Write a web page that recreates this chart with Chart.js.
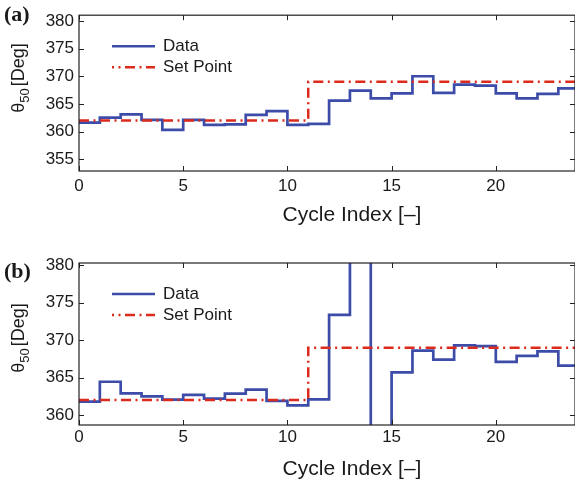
<!DOCTYPE html>
<html>
<head>
<meta charset="utf-8">
<script src="https://cdn.jsdelivr.net/npm/chart.js@4.4.1/dist/chart.umd.min.js"></script>
<style>
  html, body { margin: 0; padding: 0; background: #fff; }
  .panel { position: relative; width: 575px; height: 242px; }
</style>
</head>
<body>
<div class="panel"><canvas id="chartA" width="575" height="242"></canvas></div>
<div class="panel"><canvas id="chartB" width="575" height="242"></canvas></div>
<script>
// values
const cycles = [0, 1, 2, 3, 4, 5, 6, 7, 8, 9, 10, 11, 12, 13, 14, 15, 16, 17, 18, 19, 20, 21, 22, 23, 24];
const dataA = [361.6, 362.5, 363.1, 362.1, 360.3, 362.1, 361.2, 361.3, 363.0, 363.7, 361.2, 361.4, 365.6,
  367.4, 366.0, 366.9, 370.0, 367.0, 368.5, 368.3, 366.9, 366.0, 366.8, 367.8, 367.8];
const dataB = [361.8, 364.45, 362.9, 362.5, 362.05, 362.7, 362.2, 362.85, 363.4, 361.9, 361.3, 362.1, 373.4,
  385.0, 355.0, 365.7, 368.6, 367.4, 369.3, 369.2, 367.1, 367.9, 368.5, 366.6, 366.6];
const setPoint = [362, 362, 362, 362, 362, 362, 362, 362, 362, 362, 362, 369, 369,
  369, 369, 369, 369, 369, 369, 369, 369, 369, 369, 369, 369];
const xTicks = [0, 5, 10, 15, 20];
const yTicksA = [355, 360, 365, 370, 375, 380];
const yTicksB = [360, 365, 370, 375, 380];
const seriesNames = ['Data', 'Set Point'];

const FONT = '"Liberation Sans", Arial, Helvetica, sans-serif';
const INK = '#1a1a1a';
const BLUE = '#3c4ca8';
const RED = '#dc2a1c';
const DASH = [10, 4.5, 2, 4.5];

// box, inward ticks, labels and legend in the MATLAB style
const decor = {
  id: 'decor',
  afterDraw(chart, args, o) {
    const { ctx, chartArea: a, scales } = chart;
    ctx.save();
    ctx.strokeStyle = '#222';
    ctx.lineWidth = 1.2;
    ctx.strokeRect(a.left, a.top, a.right - a.left, a.bottom - a.top);
    ctx.lineWidth = 1;
    ctx.beginPath();
    scales.x.ticks.forEach(t => {
      const px = Math.round(scales.x.getPixelForValue(t.value)) + 0.5;
      ctx.moveTo(px, a.bottom); ctx.lineTo(px, a.bottom - 5);
      ctx.moveTo(px, a.top); ctx.lineTo(px, a.top + 5);
    });
    scales.y.ticks.forEach(t => {
      const py = Math.round(scales.y.getPixelForValue(t.value)) + 0.5;
      ctx.moveTo(a.left, py); ctx.lineTo(a.left + 5, py);
      ctx.moveTo(a.right, py); ctx.lineTo(a.right - 5, py);
    });
    ctx.stroke();

    // panel letter
    ctx.fillStyle = INK;
    ctx.font = 'bold 22px "Liberation Serif", "Times New Roman", serif';
    ctx.textBaseline = 'alphabetic';
    ctx.textAlign = 'left';
    ctx.fillText(o.letter, 4, o.letterY);

    // x title
    ctx.font = '21px ' + FONT;
    ctx.textAlign = 'center';
    ctx.fillText('Cycle Index [\u2013]', 352, o.xTitleY);

    // y title with subscript
    ctx.save();
    ctx.translate(24, o.yTitleY);
    ctx.rotate(-Math.PI / 2);
    const big = '18px ' + FONT, small = '13px ' + FONT;
    ctx.font = big; const w1 = ctx.measureText('\u03b8').width;
    ctx.font = small; const w2 = ctx.measureText('50').width;
    ctx.font = big; const w3 = ctx.measureText('[Deg]').width;
    let x0 = -(w1 + w2 + 2 + w3) / 2;
    ctx.textAlign = 'left';
    ctx.font = big; ctx.fillText('\u03b8', x0, 0);
    ctx.font = small; ctx.fillText('50', x0 + w1, 5);
    ctx.font = big; ctx.fillText('[Deg]', x0 + w1 + w2 + 2, 0);
    ctx.restore();

    // legend
    const ly = a.top + 31;
    ctx.lineWidth = 2.6;
    ctx.strokeStyle = BLUE;
    ctx.beginPath(); ctx.moveTo(112, ly); ctx.lineTo(155, ly); ctx.stroke();
    ctx.strokeStyle = RED;
    ctx.lineWidth = 2.5;
    ctx.setLineDash(DASH);
    ctx.lineDashOffset = 8;
    ctx.beginPath(); ctx.moveTo(112, ly + 21); ctx.lineTo(155, ly + 21); ctx.stroke();
    ctx.setLineDash([]);
    ctx.font = '17px ' + FONT;
    ctx.textAlign = 'left';
    ctx.textBaseline = 'middle';
    ctx.fillText(seriesNames[0], 163, ly);
    ctx.fillText(seriesNames[1], 163, ly + 21);
    ctx.restore();
  }
};

function makeChart(id, values, yTicks, cfg) {
  return new Chart(document.getElementById(id), {
    type: 'line',
    data: {
      datasets: [
        {
          label: seriesNames[0],
          data: cycles.map((c, i) => ({ x: c, y: values[i] })),
          borderColor: BLUE,
          borderWidth: 2.7,
          stepped: 'before',
          pointRadius: 0,
          order: 1
        },
        {
          label: seriesNames[1],
          data: cycles.map((c, i) => ({ x: c, y: setPoint[i] })),
          borderColor: RED,
          borderWidth: 2.5,
          borderDash: DASH,
          stepped: 'before',
          pointRadius: 0,
          order: 0
        }
      ]
    },
    options: {
      responsive: false,
      animation: false,
      layout: { padding: { left: 0, right: 0, top: cfg.top, bottom: 0 } },
      plugins: { legend: { display: false }, tooltip: { enabled: false }, decor: cfg.decor },
      scales: {
        x: {
          type: 'linear',
          min: 0,
          max: 23.8,
          grid: { display: false, drawTicks: false },
          border: { display: false },
          afterBuildTicks: s => { s.ticks = xTicks.map(v => ({ value: v })); },
          afterFit: s => { s.height = cfg.xHeight; },
          ticks: { color: INK, font: { family: FONT, size: 17 }, padding: cfg.xPad, maxRotation: 0 }
        },
        y: {
          min: cfg.ymin,
          max: cfg.ymax,
          grid: { display: false, drawTicks: false },
          border: { display: false },
          afterBuildTicks: s => { s.ticks = yTicks.map(v => ({ value: v })); },
          afterFit: s => { s.width = 79; },
          ticks: { color: INK, font: { family: FONT, size: 17 }, padding: 5 }
        }
      }
    },
    plugins: [decor]
  });
}

makeChart('chartA', dataA, yTicksA, {
  top: 9, xHeight: 71, xPad: 5, ymin: 352.86, ymax: 381.04,
  decor: { letter: '(a)', letterY: 21, xTitleY: 221, yTitleY: 78 }
});
makeChart('chartB', dataB, yTicksB, {
  top: 21, xHeight: 59, xPad: 2, ymin: 358.67, ymax: 380.32,
  decor: { letter: '(b)', letterY: 36, xTitleY: 233, yTitleY: 96 }
});
</script>
</body>
</html>
